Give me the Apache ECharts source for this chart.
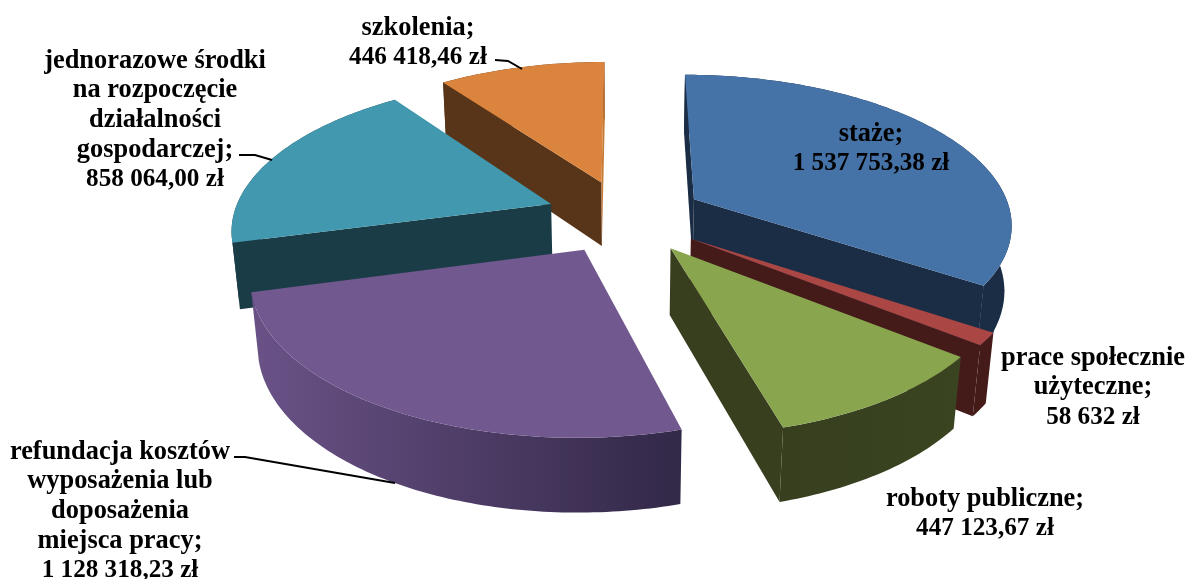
<!DOCTYPE html>
<html><head><meta charset="utf-8"><style>html,body{margin:0;background:#fff}#c{width:1190px;height:579px}</style>
<script src="https://cdn.jsdelivr.net/npm/echarts@6/dist/echarts.min.js"></script></head><body><div id="c"></div>
<script>
const categories=['staże','prace społecznie użyteczne','roboty publiczne','refundacja kosztów wyposażenia lub doposażenia miejsca pracy','jednorazowe środki na rozpoczęcie działalności gospodarczej','szkolenia'];
const values=[1537753.38,58632,447123.67,1128318.23,858064,446418.46];
const valueLabels=['1 537 753,38 zł','58 632 zł','447 123,67 zł','1 128 318,23 zł','858 064,00 zł','446 418,46 zł'];
const labelLines=[['staże;'],['prace społecznie','użyteczne;'],['roboty publiczne;'],['refundacja kosztów','wyposażenia lub','doposażenia','miejsca pracy;'],['jednorazowe środki','na rozpoczęcie','działalności','gospodarczej;'],['szkolenia;']];
const topColors=['#4572A7','#AA4643','#89A54E','#71588F','#4198AF','#DB843D'];
const sideColors=[['#1B2D45','#1B2D45'],['#451B1A','#451B1A'],['#373F1F','#3A4420'],['#6A5287','#322847'],['#1A3C46','#1A3C46'],['#583418','#583418']];
const endFaceColors=['#1B2D45','#451B1A','#373F1F','#322847','#1A3C46','#C67A38'];
const drawOrder=[5,4,0,1,2,3];
const view={cx:625.08,cy:216.39,scale:318.05,tilt:0.4847,dist:5.8124,depth:0.2365,explode:0.25};
const labelPos=[[871,134],[1093,358],[985,499],[120,452],[155,61],[418,28]];
const leaders=[[[234,457],[245,457],[395,483]],[[239,155],[255,155],[272,160]],[[495,60],[508,61],[522,69]]];
const LINE_H=29.6;
const NAME_FONT='bold 26.4px "Liberation Serif", serif';
const VALUE_FONT='bold 25.2px "Liberation Serif", serif';

const total=values.reduce((a,b)=>a+b,0);
const angs=[];let acc=0;values.forEach(v=>{angs.push([acc/total*2*Math.PI,(acc+v)/total*2*Math.PI]);acc+=v;});
function proj(u,v,h){const s=Math.sin(view.tilt),c=Math.cos(view.tilt),D=view.dist;const yc=v*s+h*c,zc=D+v*c-h*s;return [view.cx+view.scale*u*D/zc,view.cy-view.scale*yc*D/zc];}
function rimOf(i,th,h){const a=angs[i],m=(a[0]+a[1])/2;return proj(view.explode*Math.sin(m)+Math.sin(th),view.explode*Math.cos(m)+Math.cos(th),h);}
function renderItem(params,api){
 const i=api.value(1),a=angs[i],m=(a[0]+a[1])/2,ox=view.explode*Math.sin(m),oy=view.explode*Math.cos(m),kids=[];
 const arcTop=[],arcBot=[],n=Math.max(4,Math.ceil((a[1]-a[0])*60));
 for(let k=0;k<=n;k++){const th=a[0]+(a[1]-a[0])*k/n;arcTop.push(rimOf(i,th,0));arcBot.push(rimOf(i,th,-view.depth));}
 const A=proj(ox,oy,0),B=proj(ox,oy,-view.depth);
 const area=q=>{let s=0;q.forEach((v,k)=>{const w=q[(k+1)%q.length];s+=v[0]*w[1]-w[0]*v[1];});return s;};
 const f1=[A,arcTop[0],arcBot[0],B],f2=[A,B,arcBot[n],arcTop[n]];
 if(area(f1)<0)kids.push({type:'polygon',shape:{points:f1},style:{fill:sideColors[i][0]}});
 kids.push({type:'polygon',shape:{points:arcTop.concat(arcBot.slice().reverse())},style:{fill:new echarts.graphic.LinearGradient(0,0,1,0,[{offset:0,color:sideColors[i][0]},{offset:1,color:sideColors[i][1]}])}});
 if(area(f2)<0)kids.push({type:'polygon',shape:{points:f2},style:{fill:endFaceColors[i]}});
 if(i===0){ // the wall of the first slice runs on to the corner of the next one
  let far=0;arcBot.forEach((q,k)=>{if(q[0]>arcBot[far][0])far=k;});
  kids.push({type:'polygon',shape:{points:[arcBot[far],rimOf(1,a[1],0),arcBot[n],arcTop[n]]},style:{fill:sideColors[i][0]}});
 }
 kids.push({type:'polygon',shape:{points:[A].concat(arcTop)},style:{fill:topColors[i]}});
 return {type:'group',children:kids};
}
const graphic=[];
labelLines.forEach((lines,i)=>{lines.concat(valueLabels[i]).forEach((t,k)=>{
 graphic.push({type:'text',x:labelPos[i][0],y:labelPos[i][1]+k*LINE_H,z:50,style:{text:t,font:k<lines.length?NAME_FONT:VALUE_FONT,fill:'#000',align:'center',verticalAlign:'middle'}});});});
leaders.forEach(p=>graphic.push({type:'polyline',z:50,shape:{points:p},style:{stroke:'#000',lineWidth:2,fill:null}}));
const chart=echarts.init(document.getElementById('c'),null,{renderer:'canvas'});
chart.setOption({animation:false,series:[{type:'custom',coordinateSystem:'none',renderItem,data:drawOrder.map(i=>({name:categories[i],value:[values[i],i]}))}],graphic});
</script></body></html>
